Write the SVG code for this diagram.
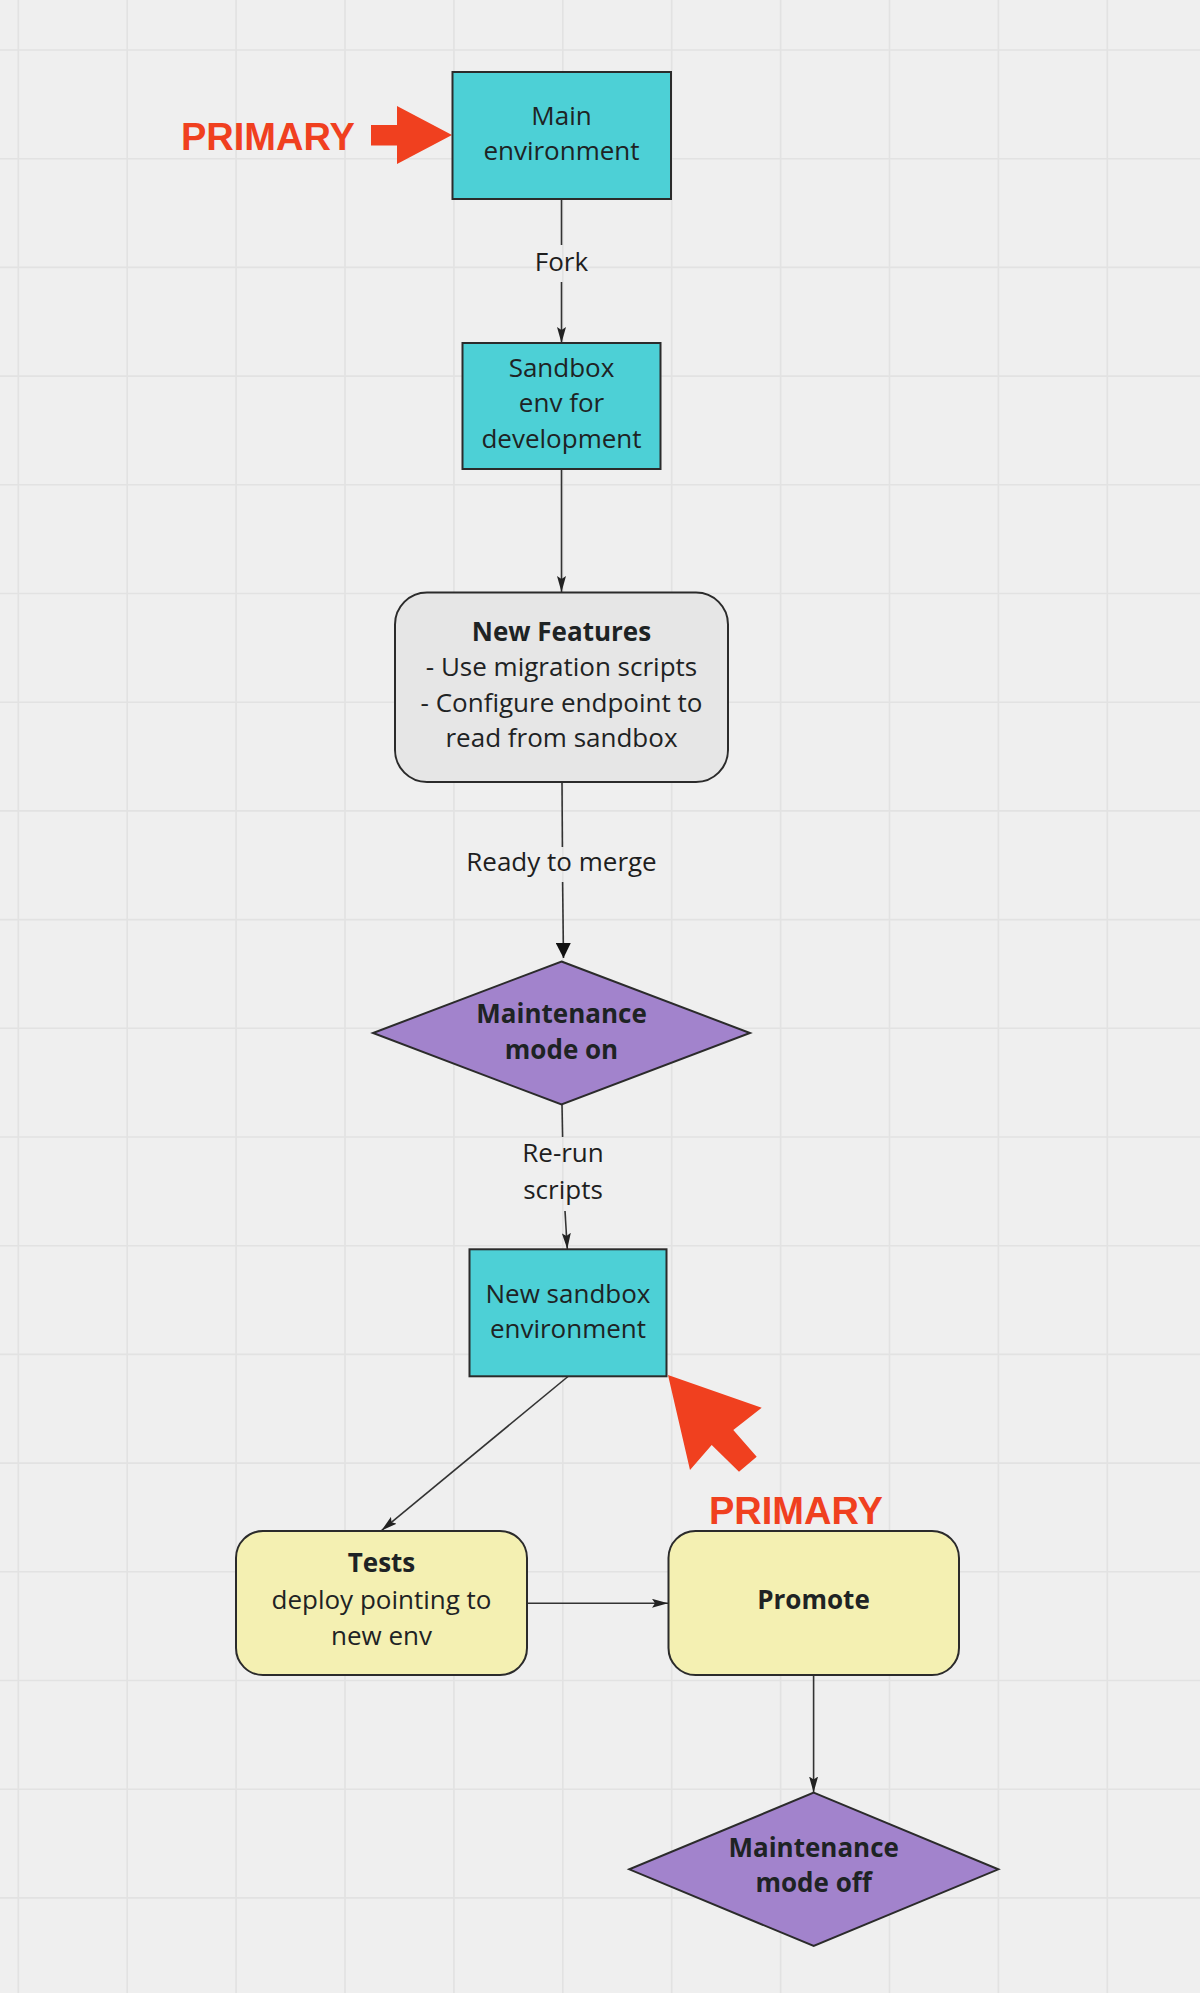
<svg xmlns="http://www.w3.org/2000/svg" width="1200" height="1993" viewBox="0 0 1200 1993">
<style>
.grid{stroke:#e2e2e2;stroke-width:1.6;fill:none}
.box{stroke:#2b2b2b;stroke-width:2}
.teal{fill:#4dd0d6}
.grey{fill:#e6e6e6}
.yellow{fill:#f4f0b2}
.purple{fill:#a283cc}
.t{font-family:"Open Sans","DejaVu Sans",sans-serif;font-size:26px;fill:#1e2324;text-anchor:middle}
.b{font-weight:bold}
.lbl{font-family:"Open Sans","DejaVu Sans",sans-serif;font-size:26px;fill:#1e1e1e;text-anchor:middle}
.edge{stroke:#333;stroke-width:1.6;fill:none}
.red{fill:#f0401f}
.redtxt{font-family:"Liberation Sans",Arial,sans-serif;font-weight:bold;font-size:38px;fill:#f0401f}
</style>
<defs>
<marker id="ah" viewBox="0 0 16 9" refX="16" refY="4.5" markerWidth="16" markerHeight="9" markerUnits="userSpaceOnUse" orient="auto">
<path d="M0,0 L16,4.5 L0,9 L3,4.5 z" fill="#222"/>
</marker>
<marker id="ahb" viewBox="0 0 15 15" refX="15" refY="7.5" markerWidth="15" markerHeight="15" markerUnits="userSpaceOnUse" orient="auto">
<path d="M0,0 L15,7.5 L0,15 z" fill="#111"/>
</marker>
</defs>
<rect width="1200" height="1993" fill="#efefef"/>
<g id="grid">
<path class="grid" d="M18.3,0V1993M127.2,0V1993M236.1,0V1993M345,0V1993M453.9,0V1993M562.8,0V1993M671.7,0V1993M780.6,0V1993M889.5,0V1993M998.4,0V1993M1107.3,0V1993M0,50H1200M0,158.7H1200M0,267.4H1200M0,376.1H1200M0,484.8H1200M0,593.5H1200M0,702.2H1200M0,810.9H1200M0,919.6H1200M0,1028.3H1200M0,1137H1200M0,1245.7H1200M0,1354.4H1200M0,1463.1H1200M0,1571.8H1200M0,1680.5H1200M0,1789.2H1200M0,1897.9H1200"/>
</g>
<g id="connectors">
<path class="edge" d="M561.5,199V245"/>
<path class="edge" d="M561.5,282V343" marker-end="url(#ah)"/>
<text class="lbl" x="561.5" y="271">Fork</text>
<path class="edge" d="M561.5,469V592" marker-end="url(#ah)"/>
<path class="edge" d="M562,782L562.4,847"/>
<path class="edge" d="M562.6,882L563.5,958" marker-end="url(#ahb)"/>
<text class="lbl" x="561.5" y="870.5">Ready to merge</text>
<path class="edge" d="M562,1104.5L562.6,1137"/>
<path class="edge" d="M565,1211L567.3,1249" marker-end="url(#ah)"/>
<text class="lbl" x="563" y="1162">Re-run</text>
<text class="lbl" x="563" y="1198.5">scripts</text>
<path class="edge" d="M568,1376.5L381.5,1530.5" marker-end="url(#ah)"/>
<path class="edge" d="M527,1603.3H668" marker-end="url(#ah)"/>
<path class="edge" d="M813.6,1675V1792.5" marker-end="url(#ah)"/>
</g>
<g id="primary-1">
<text class="redtxt" x="181" y="150">PRIMARY</text>
<path class="red" d="M371,125H397V106L452,135L397,164V145.5H371z"/>
</g>
<g id="main-env">
<rect class="box teal" x="452.5" y="72" width="218.5" height="127"/>
<text class="t" x="561.5" y="124.5">Main</text>
<text class="t" x="561.5" y="160">environment</text>
</g>
<g id="sandbox-env">
<rect class="box teal" x="462.5" y="343" width="198" height="126"/>
<text class="t" x="561.5" y="376.5">Sandbox</text>
<text class="t" x="561.5" y="412">env for</text>
<text class="t" x="561.5" y="447.5">development</text>
</g>
<g id="new-features">
<rect class="box grey" x="395" y="592.5" width="333" height="189.5" rx="32" ry="32"/>
<text class="t b" x="561.5" y="640.5">New Features</text>
<text class="t" x="561.5" y="676">- Use migration scripts</text>
<text class="t" x="561.5" y="711.5">- Configure endpoint to</text>
<text class="t" x="561.5" y="747">read from sandbox</text>
</g>
<g id="maintenance-on">
<polygon class="box purple" points="561.5,961.5 750,1033 561.5,1104.5 373,1033"/>
<text class="t b" x="561.5" y="1023">Maintenance</text>
<text class="t b" x="561.5" y="1058.5">mode on</text>
</g>
<g id="new-sandbox">
<rect class="box teal" x="469.5" y="1249.3" width="197" height="127"/>
<text class="t" x="568" y="1303">New sandbox</text>
<text class="t" x="568" y="1337.5">environment</text>
</g>
<g id="primary-2">
<path class="red" d="M668,1375L761.7,1407.7L733.3,1430L756.7,1456.7L739,1471.7L711.7,1445L690,1470z"/>
<text class="redtxt" x="709" y="1523.5">PRIMARY</text>
</g>
<g id="tests">
<rect class="box yellow" x="236" y="1531" width="291" height="144" rx="27" ry="27"/>
<text class="t b" x="381.5" y="1572">Tests</text>
<text class="t" x="381.5" y="1608.5">deploy pointing to</text>
<text class="t" x="381.5" y="1645">new env</text>
</g>
<g id="promote">
<rect class="box yellow" x="668.5" y="1531" width="290.5" height="144" rx="27" ry="27"/>
<text class="t b" x="813.5" y="1608.5">Promote</text>
</g>
<g id="maintenance-off">
<polygon class="box purple" points="813.7,1792.7 998.3,1869.3 813.7,1946 629.3,1869.3"/>
<text class="t b" x="813.7" y="1857">Maintenance</text>
<text class="t b" x="813.7" y="1892">mode off</text>
</g>
</svg>
